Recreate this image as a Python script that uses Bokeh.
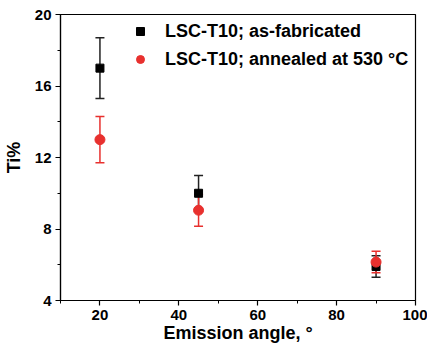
from bokeh.plotting import figure
from bokeh.models import (Whisker, TeeHead, ColumnDataSource, Legend, LegendItem,
                          FixedTicker, Range1d)
from bokeh.embed import file_html
from bokeh.resources import INLINE

# ---- data ----
angles = [20, 45, 90]
asfab = [17.0, 10.0, 5.9]
asfab_err = [1.7, 1.0, 0.6]
annealed = [13.0, 9.05, 6.15]
annealed_err = [1.3, 0.9, 0.6]

x_ticks = [20, 40, 60, 80, 100]
x_minor = [10, 30, 50, 70, 90]
y_ticks = [4, 8, 12, 16, 20]
y_minor = [6, 10, 14, 18]

label_asfab = "LSC-T10; as-fabricated"
label_ann = "LSC-T10; annealed at 530 \u00b0C"

BLACK = "#000000"
RED = "#e8302e"
FONT = "Liberation Sans"

p = figure(width=427, height=346, output_backend="svg", toolbar_location=None,
           x_range=Range1d(10, 100), y_range=Range1d(4, 20),
           min_border_left=60, min_border_top=14, min_border_right=12, min_border_bottom=46)
p.frame_width = 355
p.frame_height = 286
p.grid.visible = False
p.outline_line_color = "black"
p.outline_line_width = 1.2
p.background_fill_color = "white"
p.border_fill_color = "white"

for ax in (p.xaxis[0], p.yaxis[0]):
    ax.axis_line_color = "black"
    ax.axis_line_width = 1.2
    ax.major_tick_out = 5
    ax.major_tick_in = 0
    ax.minor_tick_out = 3
    ax.minor_tick_in = 0
    ax.major_tick_line_width = 1.2
    ax.minor_tick_line_width = 1
    ax.major_label_text_font = FONT
    ax.major_label_text_font_style = "bold"
    ax.major_label_text_font_size = "15px"
    ax.major_label_text_color = "black"
    ax.axis_label_text_font = FONT
    ax.axis_label_text_font_style = "bold"
    ax.axis_label_text_font_size = "18px"
    ax.axis_label_text_color = "black"

p.xaxis[0].ticker = FixedTicker(ticks=x_ticks, minor_ticks=x_minor)
p.yaxis[0].ticker = FixedTicker(ticks=y_ticks, minor_ticks=y_minor)
p.xaxis[0].axis_label = "Emission angle, \u00b0"
p.yaxis[0].axis_label = "Ti%"
p.xaxis[0].axis_label_standoff = 0
p.yaxis[0].axis_label_standoff = 8
p.xaxis[0].major_label_standoff = 4
p.yaxis[0].major_label_standoff = 4

src_a = ColumnDataSource(dict(x=angles, y=asfab,
                              lo=[v - e for v, e in zip(asfab, asfab_err)],
                              hi=[v + e for v, e in zip(asfab, asfab_err)]))
src_b = ColumnDataSource(dict(x=angles, y=annealed,
                              lo=[v - e for v, e in zip(annealed, annealed_err)],
                              hi=[v + e for v, e in zip(annealed, annealed_err)]))

wa = Whisker(source=src_a, base="x", lower="lo", upper="hi", line_color="#222222", line_width=1.5,
             upper_head=TeeHead(size=9, line_color="#222222", line_width=1.5),
             lower_head=TeeHead(size=9, line_color="#222222", line_width=1.5))
p.add_layout(wa)
ra = p.scatter("x", "y", source=src_a, marker="square", size=8, fill_color=BLACK, line_color=BLACK)

wb = Whisker(source=src_b, base="x", lower="lo", upper="hi", line_color=RED, line_width=1.5,
             upper_head=TeeHead(size=9, line_color=RED, line_width=1.5),
             lower_head=TeeHead(size=9, line_color=RED, line_width=1.5))
p.add_layout(wb)
rb = p.scatter("x", "y", source=src_b, marker="circle", size=10, fill_color=RED, line_color=RED)

legend = Legend(items=[LegendItem(label=label_asfab, renderers=[ra]),
                       LegendItem(label=label_ann, renderers=[rb])],
                location=(70, 230), orientation="vertical",
                glyph_width=20, glyph_height=22, label_height=22, spacing=6,
                label_standoff=15, padding=0, margin=0,
                border_line_alpha=0, background_fill_alpha=0,
                label_text_font=FONT, label_text_font_style="bold",
                label_text_font_size="18px", label_text_color="black")
p.add_layout(legend, "center")

open("out.html", "w").write(file_html(p, INLINE))
